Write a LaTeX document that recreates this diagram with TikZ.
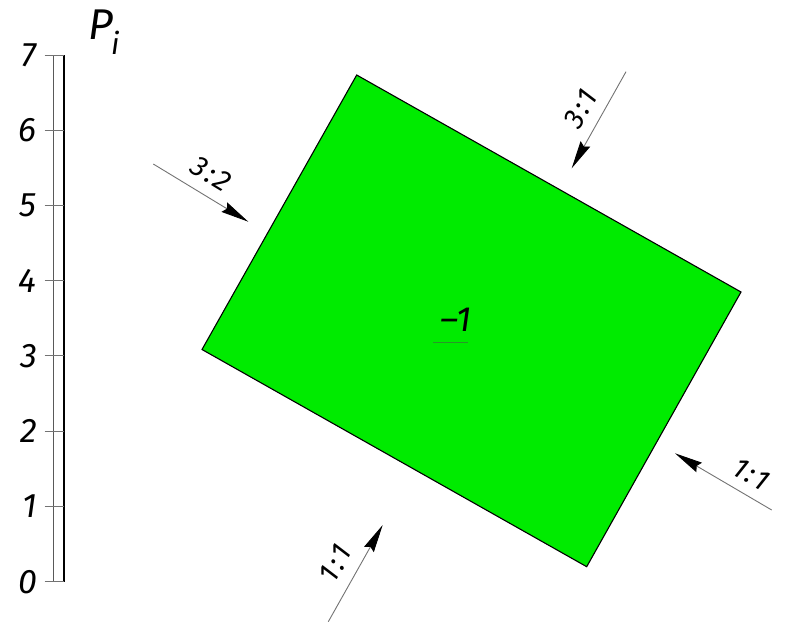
\documentclass[tikz,border=0pt]{standalone}
\usepackage{fontspec}
\newfontfamily\iso{Fira Sans Italic}
\usetikzlibrary{arrows.meta}
\definecolor{fillgreen}{RGB}{0,235,0}
\definecolor{ulgreen}{RGB}{40,150,40}
\newcommand{\rat}[2]{#1\hspace{2.5pt}:\hspace{2.5pt}#2}
\begin{document}
\begin{tikzpicture}[x=1pt,y=-1pt,
  scaleline/.style={draw=black!65, line width=1.4pt},
  scaletick/.style={draw=black!55, line width=1pt},
  scalelab/.style={anchor=east, inner sep=0pt, font=\iso\fontsize{34}{34}\selectfont},
  forcearrow/.style={draw=black!55, line width=0.9pt,
    -{Stealth[length=28pt,width=11pt,inset=3pt,fill=black,color=black]}},
  forcelab/.style={sloped, inner sep=0pt, font=\iso\fontsize{29}{29}\selectfont},
  face/.style={draw=black, line width=1.1pt, fill=fillgreen}
]
\useasboundingbox (0,0) rectangle (788,625);

% scale bar
\coordinate (sTL) at (53.5,55);
\coordinate (sTR) at (64,55);
\coordinate (sBL) at (53.5,581.7);
\coordinate (sBR) at (64,581.7);
\draw[scaleline] (sTL) -- (sBL);
\draw[draw=black, line width=1.5pt] (sTR) -- (sBR);
\foreach \k in {0,...,7}{
  \coordinate (t\k a) at (44.5,{581.7-75.24*\k});
  \coordinate (t\k b) at (64,{581.7-75.24*\k});
  \draw[scaletick] (t\k a) -- (t\k b);
  \node[scalelab] (l\k) at (37,{581.7-75.24*\k}) {\k};
}
\node[anchor=base west, inner sep=0pt, font=\iso\fontsize{43}{43}\selectfont] (P) at (88,39) {P};
\node[anchor=base west, inner sep=0pt, font=\iso\fontsize{30}{30}\selectfont] (Pi) at (111,54) {i};

% green face
\coordinate (A) at (356.7,75);
\coordinate (B) at (741,292);
\coordinate (C) at (586.7,566.7);
\coordinate (D) at (202,349.5);
\path[face] (A) -- (B) -- (C) -- (D) -- cycle;
\node[anchor=base, inner sep=0pt, font=\iso\fontsize{35}{35}\selectfont] (val) at (456,331) {–1};
\coordinate (u1) at (433,342.3);
\coordinate (u2) at (468,342.3);
\draw[ulgreen, line width=0.9pt] (u1) -- (u2);

% arrows
\coordinate (a1s) at (153.3,164);
\coordinate (a1e) at (248.3,221.7);
\draw[forcearrow] (a1s) -- node[forcelab, pos=0.49, above=11pt] (lab1) {\rat{3}{2}} (a1e);

\coordinate (a2s) at (626,71.7);
\coordinate (a2e) at (571.7,168.3);
\draw[forcearrow] (a2s) -- node[forcelab, pos=0.49, above=11pt] (lab2) {\rat{3}{1}} (a2e);

\coordinate (a3s) at (771.7,510);
\coordinate (a3e) at (675,453.3);
\draw[forcearrow] (a3s) -- node[forcelab, pos=0.32, above=10pt] (lab3) {\rat{1}{1}} (a3e);

\coordinate (a4s) at (328.3,621.7);
\coordinate (a4e) at (382.7,525);
\draw[forcearrow] (a4s) -- node[forcelab, pos=0.49, above=12pt] (lab4) {\rat{1}{1}} (a4e);
\end{tikzpicture}
\end{document}
